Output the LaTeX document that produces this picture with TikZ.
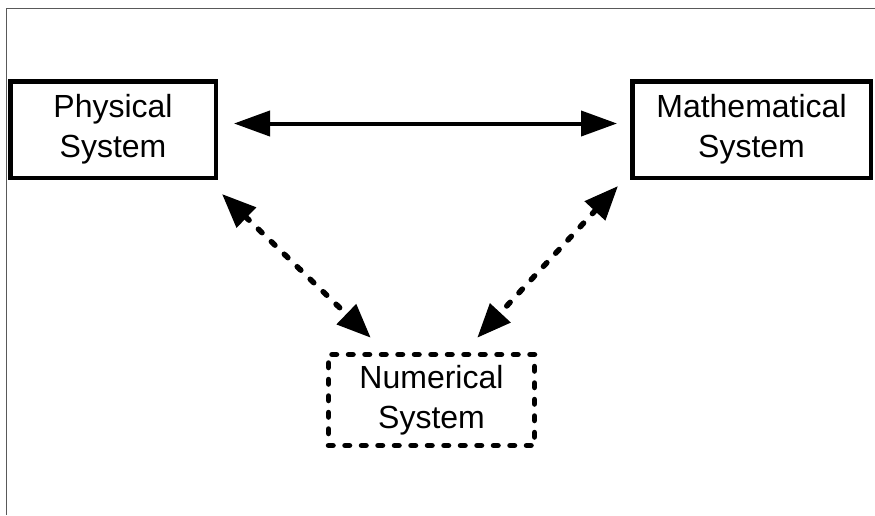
\documentclass[tikz,border=0pt]{standalone}
\usepackage{fontspec}
\setmainfont{Liberation Sans}
\usetikzlibrary{arrows.meta,calc}
\begin{document}
\begin{tikzpicture}[x=1pt,y=-1pt,
  sysbox/.style={draw=black,line width=4.5pt,align=center,inner sep=0pt,
    font=\fontsize{32}{40}\selectfont},
  dashbox/.style={sysbox,line width=5.5pt,line cap=round,dash pattern=on 4.5pt off 12pt},
  solidarrow/.style={line width=4pt,{Triangle[length=36pt,width=25pt]}-{Triangle[length=36pt,width=25pt]}},
  dasharrow/.style={line width=5.5pt,line cap=round,dash pattern=on 5pt off 13pt,
    {Triangle[length=34pt,width=27pt]}-{Triangle[length=34pt,width=27pt]}},
  frameline/.style={draw=black!65,line width=1pt}]
\useasboundingbox (0,0) rectangle (875,515);
\fill[white] (0,0) rectangle (875,515);
\coordinate (fTR) at (875,8.5);
\coordinate (fTL) at (6,8.5);
\coordinate (fBL) at (6,515);
\draw[frameline] (fTR) -- (fTL) -- (fBL);

\node[sysbox,minimum width=205.5pt,minimum height=96.5pt] (phys) at (113,129.5) {Physical\\System};
\node[sysbox,minimum width=238.5pt,minimum height=96.5pt] (math) at (751.5,129.5) {Mathematical\\System};
\node[dashbox,minimum width=206pt,minimum height=91pt] (num) at (431.5,400) {Numerical\\System};

\draw[solidarrow,shorten <=16pt,shorten >=13pt] ([yshift=6pt]phys.east) -- ([yshift=6pt]math.west);

\coordinate (a1) at ($(phys.south east)+(4,14)$);
\coordinate (a2) at ($(num.north west)+(45,-14)$);
\coordinate (b1) at ($(math.south west)+(-12,6)$);
\coordinate (b2) at ($(num.north east)+(-60,-14)$);
\draw[dasharrow] (a1) -- (a2);
\draw[dasharrow] (b1) -- (b2);
\end{tikzpicture}
\end{document}
